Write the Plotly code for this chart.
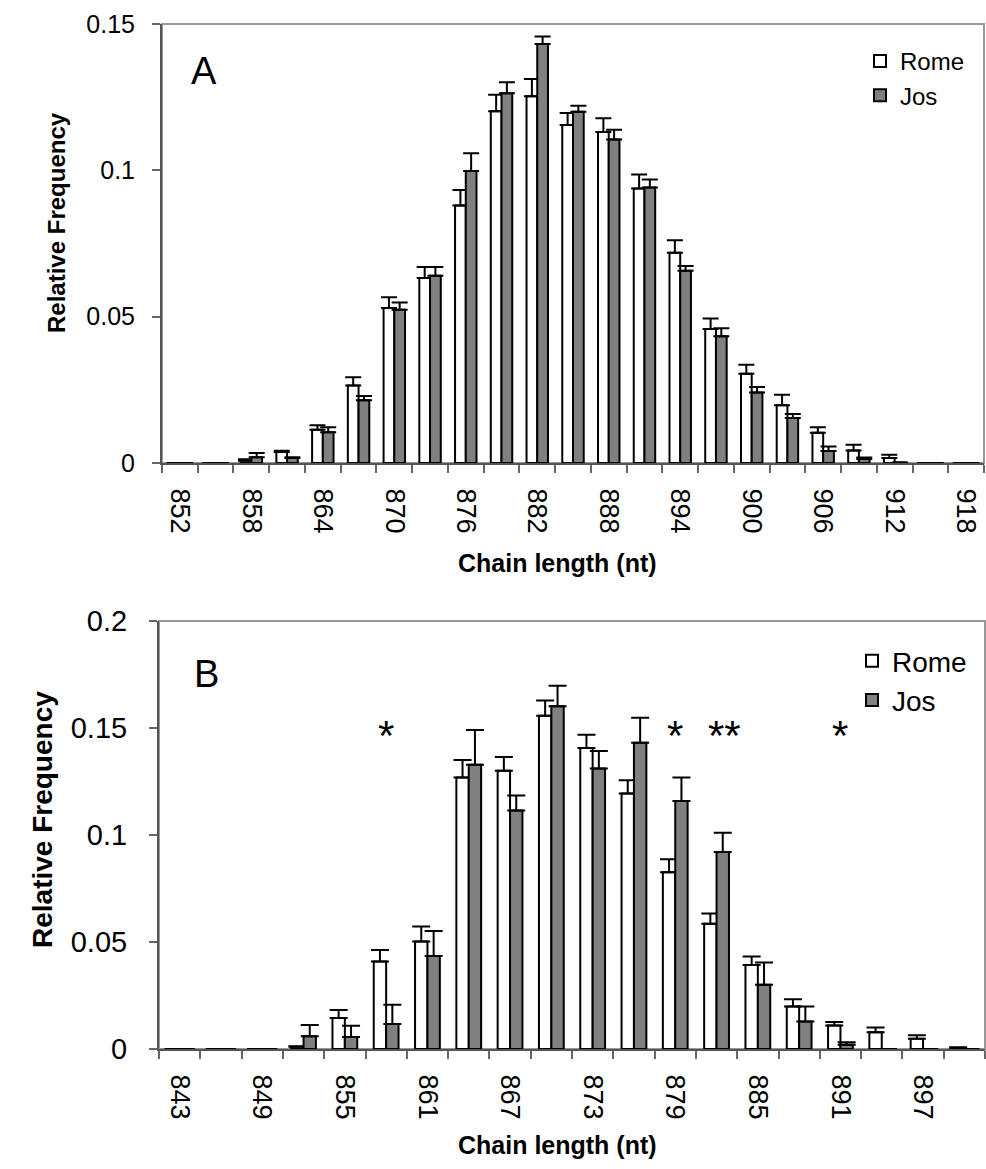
import plotly.graph_objects as go

# ---------------- data ----------------
cats_a = list(range(852, 919, 3))
rome_a = [0, 0, 0.0008, 0.0038, 0.0114, 0.0265, 0.0530, 0.0632, 0.0880, 0.1202, 0.1253, 0.1155,
          0.1131, 0.0938, 0.0718, 0.0458, 0.0305, 0.0197, 0.0103, 0.0043, 0.0017, 0, 0]
rome_a_err = [0, 0, 0.0005, 0.0004, 0.0015, 0.0028, 0.0036, 0.0038, 0.0053, 0.0056, 0.0059, 0.0041,
              0.0047, 0.0048, 0.0043, 0.0036, 0.0031, 0.0036, 0.0019, 0.0019, 0.0011, 0, 0]
jos_a = [0, 0, 0.0020, 0.0017, 0.0105, 0.0214, 0.0524, 0.0640, 0.0998, 0.1263, 0.1432, 0.1200,
         0.1105, 0.0941, 0.0657, 0.0433, 0.0241, 0.0154, 0.0041, 0.0014, 0.0002, 0, 0]
jos_a_err = [0, 0, 0.0014, 0.0003, 0.0017, 0.0015, 0.0024, 0.0030, 0.0060, 0.0038, 0.0025, 0.0021,
             0.0034, 0.0028, 0.0016, 0.0027, 0.0019, 0.0013, 0.0015, 0.0005, 0, 0, 0]
ticks_a = list(range(852, 919, 6))

cats_b = list(range(843, 901, 3))
rome_b = [0, 0, 0, 0.0010, 0.0145, 0.0409, 0.0502, 0.1269, 0.1300, 0.1557, 0.1407, 0.1194,
          0.0826, 0.0585, 0.0393, 0.0199, 0.0110, 0.0078, 0.0048, 0.0005]
rome_b_err = [0, 0, 0, 0.0003, 0.0037, 0.0054, 0.0070, 0.0081, 0.0064, 0.0071, 0.0061, 0.0062,
              0.0061, 0.0048, 0.0039, 0.0033, 0.0016, 0.0023, 0.0016, 0.0003]
jos_b = [0, 0, 0, 0.0059, 0.0056, 0.0117, 0.0434, 0.1328, 0.1114, 0.1602, 0.1311, 0.1431,
         0.1159, 0.0921, 0.0300, 0.0129, 0.0020, 0, 0, 0]
jos_b_err = [0, 0, 0, 0.0053, 0.0053, 0.0090, 0.0117, 0.0163, 0.0070, 0.0095, 0.0081, 0.0117,
             0.0110, 0.0090, 0.0104, 0.0070, 0.0011, 0, 0, 0]
ticks_b = list(range(843, 898, 6))

star_x = [858, 879, 882.6, 891]
star_text = ["*", "*", "**", "*"]
star_y = 0.15

# ---------------- figure ----------------
W, H = 986, 1169
FONT = "Arial, Liberation Sans, sans-serif"
ROME_FILL = "white"
JOS_FILL = "#808080"


def px_x(p):
    return p / W


def px_y(p):
    return 1 - p / H


fig = go.Figure()


def add_pair(cats, rome, rome_err, jos, jos_err, xa, ya, legend, capw):
    zeros = [0] * len(cats)
    fig.add_trace(go.Bar(
        x=cats, y=rome, name="Rome", xaxis=xa, yaxis=ya, legend=legend,
        marker=dict(color=ROME_FILL, line=dict(color="black", width=2)),
        error_y=dict(type="data", array=rome_err, arrayminus=zeros, symmetric=False,
                     color="black", thickness=2, width=capw),
    ))
    fig.add_trace(go.Bar(
        x=cats, y=jos, name="Jos", xaxis=xa, yaxis=ya, legend=legend,
        marker=dict(color=JOS_FILL, line=dict(color="black", width=2)),
        error_y=dict(type="data", array=jos_err, arrayminus=zeros, symmetric=False,
                     color="black", thickness=2, width=capw),
    ))


add_pair(cats_a, rome_a, rome_a_err, jos_a, jos_a_err, "x", "y", "legend", 8)
add_pair(cats_b, rome_b, rome_b_err, jos_b, jos_b_err, "x2", "y2", "legend2", 9)

axis_line = "#555555"

fig.update_layout(
    xaxis=dict(
        domain=[px_x(162), px_x(984)], anchor="y",
        range=[cats_a[0] - 1.5, cats_a[-1] + 1.5],
        tickmode="array", tickvals=ticks_a, ticktext=[str(t) for t in ticks_a],
        tickangle=90, ticks="", ticklabelstandoff=18,
        tickfont=dict(family=FONT, size=27, color="black"),
        minor=dict(tickmode="array", tickvals=[c - 1.5 for c in cats_a] + [cats_a[-1] + 1.5],
                   ticks="outside", ticklen=8, tickwidth=1.5, tickcolor="#666666", showgrid=False),
        showline=True, linecolor=axis_line, linewidth=2, showgrid=False, zeroline=False,
        automargin=False,
    ),
    yaxis=dict(
        domain=[px_y(463), px_y(24)], anchor="x",
        range=[0, 0.15], tickmode="array", tickvals=[0, 0.05, 0.1, 0.15],
        ticktext=["0", "0.05", "0.1", "0.15"],
        ticks="outside", ticklen=8, tickwidth=1.5, tickcolor="#666666",
        tickfont=dict(family=FONT, size=25, color="black"), ticklabelstandoff=12,
        showline=True, linecolor=axis_line, linewidth=2, showgrid=False, zeroline=False,
        automargin=False,
    ),
    xaxis2=dict(
        domain=[px_x(159), px_x(985)], anchor="y2",
        range=[cats_b[0] - 1.5, cats_b[-1] + 1.5],
        tickmode="array", tickvals=ticks_b, ticktext=[str(t) for t in ticks_b],
        tickangle=90, ticks="", ticklabelstandoff=18,
        tickfont=dict(family=FONT, size=27, color="black"),
        minor=dict(tickmode="array", tickvals=[c - 1.5 for c in cats_b] + [cats_b[-1] + 1.5],
                   ticks="outside", ticklen=8, tickwidth=1.5, tickcolor="#666666", showgrid=False),
        showline=True, linecolor=axis_line, linewidth=2, showgrid=False, zeroline=False,
        automargin=False,
    ),
    yaxis2=dict(
        domain=[px_y(1049), px_y(621)], anchor="x2",
        range=[0, 0.2], tickmode="array", tickvals=[0, 0.05, 0.1, 0.15, 0.2],
        ticktext=["0", "0.05", "0.1", "0.15", "0.2"],
        ticks="outside", ticklen=8, tickwidth=1.5, tickcolor="#666666",
        tickfont=dict(family=FONT, size=29, color="black"), ticklabelstandoff=16,
        showline=True, linecolor=axis_line, linewidth=2, showgrid=False, zeroline=False,
        automargin=False,
    ),
)

for xa, ya in (("x", "y"), ("x2", "y2")):
    fig.add_shape(type="rect", xref=f"{xa} domain", yref=f"{ya} domain",
                  x0=0, x1=1, y0=0, y1=1, line=dict(color="#999999", width=2),
                  layer="below")


def ann(text, x, y, size, angle=0):
    return dict(text=text, x=px_x(x), y=px_y(y), xref="paper", yref="paper",
                xanchor="center", yanchor="middle", showarrow=False, textangle=angle,
                font=dict(family=FONT, size=size, color="black"))


annotations = [
    ann("<b>Relative Frequency</b>", 57, 223, 24, -90),
    ann("<b>Relative Frequency</b>", 43, 820, 28, -90),
    ann("<b>Chain length (nt)</b>", 557, 563, 25),
    ann("<b>Chain length (nt)</b>", 557, 1145, 25),
    ann("A", 204, 71, 38),
    ann("B", 206, 674, 38),
]
for sx, st in zip(star_x, star_text):
    annotations.append(dict(text=st, x=sx, y=star_y, xref="x2", yref="y2", showarrow=False,
                            xanchor="center", yanchor="middle", yshift=-7,
                            font=dict(family=FONT, size=42, color="black")))

fig.update_layout(
    width=W, height=H,
    margin=dict(l=0, r=0, t=0, b=0, pad=0, autoexpand=False),
    paper_bgcolor="white", plot_bgcolor="white",
    barmode="group", bargap=0.4, bargroupgap=0,
    annotations=annotations,
    legend=dict(x=px_x(860), y=px_y(39), xanchor="left", yanchor="top",
                font=dict(family=FONT, size=24, color="black"), bgcolor="rgba(0,0,0,0)",
                tracegroupgap=4, itemclick=False),
    legend2=dict(x=px_x(852), y=px_y(636), xanchor="left", yanchor="top",
                 font=dict(family=FONT, size=28, color="black"), bgcolor="rgba(0,0,0,0)",
                 tracegroupgap=11, itemclick=False),
    font=dict(family=FONT),
)

fig.write_html("out.html", config={"displayModeBar": False},
               post_script="document.body.style.margin='0';document.body.style.overflow='hidden';")
